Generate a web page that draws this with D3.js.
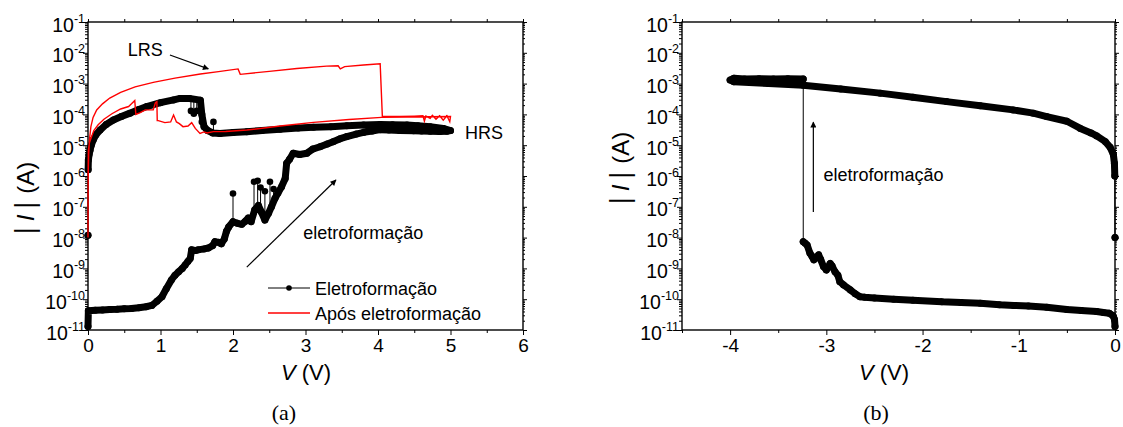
<!DOCTYPE html>
<html lang="pt">
<head>
<meta charset="UTF-8">
<title>Eletroformação - curvas I-V</title>
<script src="https://d3js.org/d3.v7.min.js"></script>
<style>
  body { margin: 0; background: #fff; }
  svg { display: block; font-family: "Liberation Sans", Arial, sans-serif; }
</style>
</head>
<body>
<svg id="chart" width="1123" height="427"></svg>
<script>
// ---- data (V in volts, |I| in amperes) ----
const decades = [-11, -10, -9, -8, -7, -6, -5, -4, -3, -2, -1];
const xTicksA = [0, 1, 2, 3, 4, 5, 6];
const xTicksB = [-4, -3, -2, -1, 0];

// (a) black: electroforming sweep 0 -> 5 V and back
const eletroA = [
  [0, 1.3e-11], [0.005, 4.2e-11], [0.1, 4.4e-11], [0.2, 4.5e-11], [0.3, 4.6e-11], [0.4, 4.7e-11],
  [0.5, 4.9e-11], [0.6, 5.0e-11], [0.7, 5.3e-11], [0.8, 5.7e-11], [0.88, 6.3e-11], [0.95, 8.5e-11],
  [1.02, 1.2e-10], [1.08, 2.2e-10], [1.15, 4.2e-10], [1.2, 6e-10], [1.25, 7.8e-10], [1.3, 1.0e-9],
  [1.34, 1.3e-9], [1.38, 1.7e-9], [1.41, 2.1e-9], [1.43, 4.0e-9], [1.48, 3.8e-9], [1.52, 4.0e-9],
  [1.6, 4.3e-9], [1.66, 4.6e-9], [1.72, 5.5e-9], [1.75, 7.4e-9], [1.8, 7.0e-9], [1.84, 6.3e-9],
  [1.88, 9e-9], [1.91, 1.6e-8], [1.94, 2.2e-8], [2.0, 3.3e-8], [2.06, 2.9e-8], [2.12, 2.7e-8],
  [2.17, 3.4e-8], [2.21, 4.3e-8], [2.25, 3.3e-8], [2.3, 8e-8], [2.35, 1.1e-7], [2.39, 6.9e-8],
  [2.44, 3.7e-8], [2.49, 6.2e-8], [2.53, 1.0e-7], [2.58, 1.9e-7], [2.62, 2.8e-7], [2.67, 4.5e-7],
  [2.72, 8.3e-7], [2.74, 2.6e-6], [2.78, 3.5e-6], [2.83, 5.5e-6], [2.92, 5.0e-6], [3.02, 5.5e-6],
  [3.1, 7.5e-6], [3.2, 8.9e-6], [3.3, 1.1e-5], [3.38, 1.3e-5], [3.47, 1.6e-5], [3.57, 1.9e-5],
  [3.7, 2.3e-5], [3.8, 2.6e-5], [3.92, 2.9e-5], [4.03, 3.2e-5], [4.15, 3.1e-5], [4.3, 3.0e-5],
  [4.49, 2.95e-5], [4.6, 2.9e-5], [4.72, 2.85e-5], [4.85, 2.8e-5], [4.95, 2.85e-5], [5.0, 3.0e-5],
  [4.9, 3.5e-5], [4.72, 4.0e-5], [4.55, 4.3e-5], [4.4, 4.5e-5], [4.2, 4.6e-5], [4.03, 4.7e-5],
  [3.8, 4.5e-5], [3.57, 4.3e-5], [3.35, 4.0e-5], [3.11, 3.8e-5], [2.9, 3.6e-5], [2.65, 3.3e-5],
  [2.4, 3.0e-5], [2.19, 2.75e-5], [2.0, 2.6e-5], [1.82, 2.4e-5], [1.72, 2.5e-5], [1.65, 3.0e-5],
  [1.6, 4.0e-5], [1.57, 1.0e-4], [1.55, 2.9e-4], [1.4, 3.3e-4], [1.27, 3.3e-4], [1.18, 2.95e-4],
  [1.0, 2.4e-4], [0.81, 1.8e-4], [0.7, 1.45e-4], [0.58, 1.1e-4], [0.46, 8.5e-5], [0.35, 6.6e-5],
  [0.25, 4.7e-5], [0.166, 3.1e-5], [0.11, 2.2e-5], [0.073, 1.5e-5], [0.045, 1.0e-5], [0.028, 6.9e-6],
  [0.015, 5e-6], [0.005, 3.3e-6], [0.002, 1.6e-6], [0, 1.2e-8]
];
// (a) isolated noisy points: [V, band value, spike value]
const spikesA = [
  [2.0, 3.3e-8, 2.7e-7], [2.29, 8e-8, 6.5e-7], [2.34, 1.0e-7, 7e-7], [2.38, 7e-8, 4.2e-7],
  [2.44, 3.7e-8, 3.2e-7], [2.51, 8e-8, 6.5e-7], [2.56, 1.4e-7, 3.8e-7],
  [1.42, 3.2e-4, 1.3e-4], [1.46, 3.3e-4, 1.05e-4], [1.5, 3.3e-4, 1.3e-4],
  [1.57, 3.0e-4, 5.7e-5], [1.73, 2.5e-5, 5.7e-5]
];
// (a) red: sweep after electroforming
const aposA = [
  [0, 1e-8], [0.001, 3e-7], [0.003, 1e-6], [0.01, 5e-6], [0.02, 1.5e-5], [0.04, 4e-5], [0.07, 8e-5],
  [0.12, 1.4e-4], [0.2, 2.2e-4], [0.3, 3.4e-4], [0.45, 5.2e-4], [0.65, 7.8e-4], [0.9, 1.1e-3],
  [1.2, 1.5e-3], [1.55, 2.05e-3], [1.8, 2.45e-3], [2.07, 3.0e-3], [2.1, 2.0e-3], [2.5, 2.5e-3],
  [2.88, 3.1e-3], [3.29, 3.7e-3], [3.45, 3.8e-3], [3.48, 3.0e-3], [3.54, 3.55e-3], [3.8, 4.0e-3],
  [4.03, 4.4e-3], [4.06, 8.5e-5], [4.3, 8.6e-5], [4.5, 8.8e-5], [4.62, 9.0e-5], [4.64, 6.0e-5],
  [4.66, 8.8e-5], [4.72, 7.5e-5], [4.75, 9.3e-5], [4.8, 7.0e-5], [4.85, 9.0e-5], [4.9, 6.5e-5],
  [4.95, 9.0e-5], [4.99, 5.8e-5], [5.0, 8.5e-5], [4.4, 8.2e-5], [4.05, 8.0e-5], [3.6, 6.8e-5],
  [3.11, 5.5e-5], [2.65, 4.2e-5], [2.19, 3.1e-5], [1.9, 2.8e-5], [1.73, 2.75e-5], [1.64, 2.5e-5],
  [1.6, 2.7e-5], [1.545, 2.4e-5], [1.48, 3.5e-5], [1.43, 5.4e-5], [1.38, 4.2e-5], [1.31, 4.0e-5],
  [1.26, 5.0e-5], [1.22, 5.7e-5], [1.18, 9.5e-5], [1.14, 5.7e-5], [1.06, 5.4e-5], [0.97, 6.3e-5],
  [0.955, 6.3e-5], [0.95, 2.6e-4], [0.93, 2.4e-4], [0.9, 1.4e-4], [0.79, 1.4e-4], [0.72, 1.15e-4],
  [0.66, 1.0e-4], [0.645, 2.8e-4], [0.6, 2.2e-4], [0.56, 1.8e-4], [0.45, 1.5e-4], [0.33, 1.05e-4],
  [0.22, 7e-5], [0.14, 4.6e-5], [0.08, 3e-5], [0.05, 1.9e-5], [0.02, 1.2e-5], [0.005, 6.9e-6],
  [0.001, 1e-6]
];

// (b) black: negative sweep 0 -> -4 V and back
const eletroB = [
  [0, 1.3e-11], [-0.005, 2.2e-11], [-0.02, 2.9e-11], [-0.06, 3.5e-11], [-0.12, 3.7e-11],
  [-0.19, 4.0e-11], [-0.35, 4.3e-11], [-0.5, 4.6e-11], [-0.71, 5.5e-11], [-0.9, 6.0e-11],
  [-1.05, 6.3e-11], [-1.2, 6.6e-11], [-1.4, 7.4e-11], [-1.6, 7.8e-11], [-1.8, 8.2e-11],
  [-2.1, 9.3e-11], [-2.3, 1.0e-10], [-2.5, 1.1e-10], [-2.6, 1.15e-10], [-2.65, 1.2e-10],
  [-2.7, 1.5e-10], [-2.75, 2.0e-10], [-2.82, 2.9e-10], [-2.86, 3.7e-10], [-2.88, 6.0e-10],
  [-2.91, 7.8e-10], [-2.94, 1.2e-9], [-2.96, 1.45e-9], [-2.98, 1.1e-9], [-3.0, 8.9e-10],
  [-3.03, 1.15e-9], [-3.06, 2.0e-9], [-3.08, 2.75e-9], [-3.11, 2.2e-9], [-3.13, 1.9e-9],
  [-3.15, 2.5e-9], [-3.17, 3.1e-9], [-3.2, 5.8e-9], [-3.22, 6.5e-9], [-3.24, 7.4e-9],
  [-3.24, 1.4e-3], [-3.4, 1.45e-3], [-3.55, 1.4e-3], [-3.7, 1.45e-3], [-3.85, 1.4e-3],
  [-3.96, 1.5e-3], [-4.0, 1.3e-3], [-3.96, 1.15e-3], [-3.6, 1.0e-3], [-3.24, 8.9e-4],
  [-2.85, 6.7e-4], [-2.44, 4.9e-4], [-2.1, 3.6e-4], [-1.75, 2.6e-4], [-1.4, 1.9e-4],
  [-1.06, 1.4e-4], [-0.85, 1.1e-4], [-0.71, 8.5e-5], [-0.5, 6.0e-5], [-0.36, 3.5e-5],
  [-0.25, 2.5e-5], [-0.19, 2.0e-5], [-0.1, 1.3e-5], [-0.05, 8.5e-6], [-0.017, 5e-6],
  [-0.006, 2.6e-6], [-0.002, 1.0e-6], [0, 1e-8]
];

// ---- layout ----
const plotTop = 22, plotBottom = 330;
const svg = d3.select("#chart");

const defs = svg.append("defs");
defs.append("marker")
  .attr("id", "head")
  .attr("viewBox", "0 0 10 10")
  .attr("refX", 9).attr("refY", 5)
  .attr("markerWidth", 9).attr("markerHeight", 6)
  .attr("markerUnits", "userSpaceOnUse")
  .attr("orient", "auto")
  .append("path").attr("d", "M0,0 L10,5 L0,10 z").attr("fill", "#000");

function drawPanel(left, right, xDomain, xTicks) {
  const x = d3.scaleLinear().domain(xDomain).range([left, right]);
  const y = d3.scaleLog().domain([1e-11, 1e-1]).range([plotBottom, plotTop]);
  const g = svg.append("g");

  const majorY = decades.map(d => Math.pow(10, d));
  const minorY = [];
  decades.slice(0, -1).forEach(d => { for (let k = 2; k <= 9; k++) minorY.push(k * Math.pow(10, d)); });
  const minorX = d3.range(xDomain[0], xDomain[1] + 0.01, 0.5).filter(v => !xTicks.includes(v));

  const noLabel = a => a.tickFormat("").tickSizeOuter(0);
  g.append("g").attr("transform", `translate(0,${plotBottom})`)
    .call(d3.axisBottom(x).tickValues(xTicks).tickSize(5).tickPadding(4).tickSizeOuter(0).tickFormat(d => String(d)))
    .call(s => s.selectAll("text").attr("font-size", 19).attr("font-family", "Liberation Sans, Arial, sans-serif"));
  g.append("g").attr("transform", `translate(0,${plotBottom})`)
    .call(noLabel(d3.axisBottom(x).tickValues(minorX).tickSize(3)));
  g.append("g").attr("transform", `translate(0,${plotTop})`)
    .call(noLabel(d3.axisTop(x).tickValues(xTicks.concat(minorX)).tickSize(3)));
  g.append("g").attr("transform", `translate(${left},0)`)
    .call(noLabel(d3.axisLeft(y).tickValues(majorY).tickSize(5)));
  g.append("g").attr("transform", `translate(${left},0)`)
    .call(noLabel(d3.axisLeft(y).tickValues(minorY).tickSize(3)));
  g.append("g").attr("transform", `translate(${right},0)`)
    .call(noLabel(d3.axisRight(y).tickValues(majorY).tickSize(4)));
  g.append("g").attr("transform", `translate(${right},0)`)
    .call(noLabel(d3.axisRight(y).tickValues(minorY).tickSize(2)));
  g.selectAll(".domain").remove();
  g.selectAll(".tick line").attr("stroke-width", 1);

  g.append("rect")
    .attr("x", left).attr("y", plotTop)
    .attr("width", right - left).attr("height", plotBottom - plotTop)
    .attr("fill", "none").attr("stroke", "#000").attr("stroke-width", 1.4);

  // decade labels 10^n
  const lab = g.selectAll(".ylab").data(decades).join("text")
    .attr("class", "ylab")
    .attr("x", left - 3)
    .attr("y", d => y(Math.pow(10, d)) + 9.5)
    .attr("text-anchor", "end")
    .attr("font-size", 19.5);
  lab.append("tspan").text("10");
  lab.append("tspan").attr("font-size", 12.5).attr("dy", -9).text(d => String(d));

  return { x, y, g };
}

function runs(pts, x, y, maxGap) {
  const out = [];
  let cur = [pts[0]];
  for (let i = 1; i < pts.length; i++) {
    const a = pts[i - 1], b = pts[i];
    const dist = Math.hypot(x(b[0]) - x(a[0]), y(b[1]) - y(a[1]));
    if (dist > maxGap) { out.push(cur); cur = [b]; } else cur.push(b);
  }
  out.push(cur);
  return out;
}

function drawScatterLine(p, pts) {
  const line = d3.line().x(d => p.x(d[0])).y(d => p.y(d[1]));
  // thin connecting line through every point
  p.g.append("path").attr("d", line(pts))
    .attr("fill", "none").attr("stroke", "#000").attr("stroke-width", 1);
  // dense overlapping markers look like a thick band
  runs(pts, p.x, p.y, 40).forEach(r => {
    p.g.append("path").attr("d", line(r))
      .attr("fill", "none").attr("stroke", "#000")
      .attr("stroke-width", 7).attr("stroke-linejoin", "round").attr("stroke-linecap", "round");
  });
  p.g.selectAll(null).data(pts).join("circle")
    .attr("cx", d => p.x(d[0])).attr("cy", d => p.y(d[1]))
    .attr("r", 3.5).attr("fill", "#000");
}

function arrow(p, from, to) {
  p.g.append("line")
    .attr("x1", p.x(from[0])).attr("y1", p.y(from[1]))
    .attr("x2", p.x(to[0])).attr("y2", p.y(to[1]))
    .attr("stroke", "#000").attr("stroke-width", 1.2)
    .attr("marker-end", "url(#head)");
}

function note(p, v, i, txt, anchor) {
  p.g.append("text")
    .attr("x", p.x(v)).attr("y", p.y(i))
    .attr("dominant-baseline", "central")
    .attr("text-anchor", anchor || "start")
    .attr("font-size", 18).text(txt);
}

function axisTitles(cx, yTitleX, yTitleY) {
  const t = svg.append("text")
    .attr("x", cx).attr("y", 380)
    .attr("text-anchor", "middle").attr("font-size", 22);
  t.append("tspan").attr("font-style", "italic").text("V");
  t.append("tspan").text(" (V)");

  const yt = svg.append("text")
    .attr("transform", `translate(${yTitleX},${yTitleY}) rotate(-90)`)
    .attr("text-anchor", "middle").attr("font-size", 24);
  yt.append("tspan").attr("font-size", 27).text("|");
  yt.append("tspan").attr("dx", 6).attr("font-style", "italic").text("I");
  yt.append("tspan").attr("dx", 6).attr("font-size", 27).text("|");
  yt.append("tspan").attr("dx", 8).text("(A)");
}

// ---- panel (a) ----
const pa = drawPanel(88, 523, [0, 6], xTicksA);
drawScatterLine(pa, eletroA);
spikesA.forEach(s => {
  pa.g.append("line")
    .attr("x1", pa.x(s[0])).attr("x2", pa.x(s[0]))
    .attr("y1", pa.y(s[1])).attr("y2", pa.y(s[2]))
    .attr("stroke", "#000").attr("stroke-width", 1);
  pa.g.append("circle").attr("cx", pa.x(s[0])).attr("cy", pa.y(s[2])).attr("r", 3.3).attr("fill", "#000");
});
pa.g.append("path")
  .attr("d", d3.line().x(d => pa.x(d[0])).y(d => pa.y(d[1]))(aposA))
  .attr("fill", "none").attr("stroke", "#ff0000").attr("stroke-width", 1.4);

note(pa, 0.79, 1.23e-2, "LRS", "middle");
arrow(pa, [1.13, 8.5e-3], [1.66, 3.0e-3]);
note(pa, 5.2, 2.5e-5, "HRS");
note(pa, 2.97, 1.4e-8, "eletroformação");
arrow(pa, [2.19, 1.1e-9], [3.42, 7.4e-7]);

// legend
const leg = pa.g.append("g").attr("transform", "translate(268,288)");
leg.append("line").attr("x1", 0).attr("x2", 42).attr("stroke", "#000").attr("stroke-width", 1);
leg.append("circle").attr("cx", 21).attr("r", 2.8).attr("fill", "#000");
leg.append("text").attr("x", 47).attr("y", 6.5).attr("font-size", 18).text("Eletroformação");
leg.append("line").attr("x1", 0).attr("x2", 42).attr("y1", 25).attr("y2", 25)
  .attr("stroke", "#ff0000").attr("stroke-width", 1.4);
leg.append("text").attr("x", 47).attr("y", 31.5).attr("font-size", 18).text("Após eletroformação");

axisTitles(306, 34, 198);

// ---- panel (b) ----
const pb = drawPanel(682, 1115, [-4.5, 0], xTicksB);
drawScatterLine(pb, eletroB);
arrow(pb, [-3.135, 6.8e-8], [-3.135, 5.6e-5]);
note(pb, -3.03, 1.07e-6, "eletroformação");

axisTitles(884, 629, 168);

// captions
[["(a)", 284], ["(b)", 876]].forEach(c => {
  svg.append("text")
    .attr("x", c[1]).attr("y", 420)
    .attr("text-anchor", "middle")
    .attr("font-family", "Liberation Serif, DejaVu Serif, serif")
    .attr("font-size", 22).text(c[0]);
});
</script>
</body>
</html>
